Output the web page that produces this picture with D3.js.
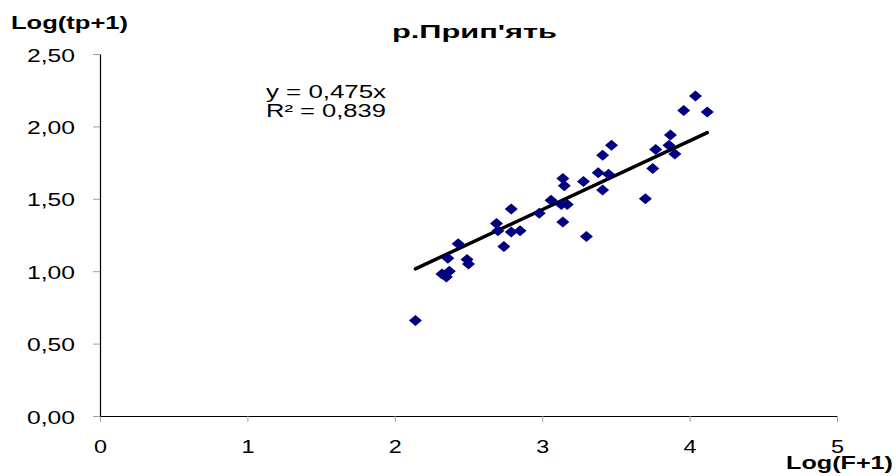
<!DOCTYPE html>
<html>
<head>
<meta charset="utf-8">
<script src="https://cdn.jsdelivr.net/npm/d3@7"></script>
<style>
    body { margin: 0; background: #fff; }
    svg { display: block; font-family: "Liberation Sans", Arial, sans-serif; }
</style>
</head>
<body>
<svg id="chart" width="896" height="476"></svg>
<script>
// values
var xValues = [2.14, 2.32, 2.35, 2.37, 2.36, 2.43, 2.49, 2.50, 2.69, 2.70, 2.74, 2.79, 2.79, 2.85, 2.98,
    3.06, 3.13, 3.17, 3.14, 3.15, 3.14, 3.28, 3.30, 3.38, 3.41, 3.45, 3.41, 3.47, 3.70, 3.75, 3.77,
    3.86, 3.87, 3.90, 3.96, 4.04, 4.12];
var yValues = [0.66, 0.98, 0.96, 1.00, 1.09, 1.19, 1.08, 1.05, 1.33, 1.28, 1.17, 1.43, 1.27, 1.28, 1.40,
    1.49, 1.46, 1.46, 1.64, 1.59, 1.34, 1.62, 1.24, 1.68, 1.56, 1.67, 1.80, 1.87, 1.50, 1.71, 1.84,
    1.87, 1.94, 1.81, 2.11, 2.21, 2.10];
var xTicks = [0, 1, 2, 3, 4, 5];
var yTicks = [0, 0.5, 1, 1.5, 2, 2.5];
var slope = 0.475;
var equationLines = ["y = 0,475x", "R\u00b2 = 0,839"];
var title = "р.Прип'ять";
var xTitle = "Log(F+1)";
var yTitle = "Log(tp+1)";

var svg = d3.select("#chart");

var x = d3.scaleLinear().domain([0, 5]).range([100, 837]);
var y = d3.scaleLinear().domain([0, 2.5]).range([416, 54]);

var comma = function (v, n) { return v.toFixed(n).replace(".", ","); };

// axes
var xAxis = svg.append("g")
    .attr("transform", "translate(0," + y(0) + ")")
    .call(d3.axisBottom(x).tickValues(xTicks).tickSize(6).tickSizeOuter(0).tickFormat(d => comma(d, 0)));
var yAxis = svg.append("g")
    .attr("transform", "translate(" + x(0) + ",0)")
    .call(d3.axisLeft(y).tickValues(yTicks).tickSize(7).tickSizeOuter(0).tickFormat(d => comma(d, 2)));

[xAxis, yAxis].forEach(function (g) {
    g.select(".domain").attr("stroke", "#000").attr("stroke-width", 1.2);
    g.selectAll(".tick line").attr("stroke", "#a0a0a0");
    g.selectAll(".tick text")
        .attr("fill", "#000")
        .style("font-size", "18px");
    g.attr("font-family", null).attr("font-size", null);
});

xAxis.selectAll(".tick text")
    .attr("y", 37).attr("dy", 0)
    .attr("textLength", 13).attr("lengthAdjust", "spacingAndGlyphs");
yAxis.selectAll(".tick text")
    .attr("x", -25).attr("dy", 7)
    .attr("textLength", 48).attr("lengthAdjust", "spacingAndGlyphs");

// trend line through the points' x range
var xExtent = d3.extent(xValues);
svg.append("path")
    .attr("fill", "none")
    .attr("stroke", "#000")
    .attr("stroke-width", 3.5)
    .attr("stroke-linecap", "round")
    .attr("d", d3.line().x(d => x(d)).y(d => y(d * slope))(xExtent));

// points (diamonds)
var points = xValues.map((v, i) => ({x: v, y: yValues[i]}));
var dw = 6.5, dh = 5.5;
svg.append("g").selectAll("path")
    .data(points)
    .enter().append("path")
    .attr("fill", "#000080")
    .attr("d", function (d) {
        var cx = x(d.x), cy = y(d.y);
        return "M" + cx + "," + (cy - dh) + "L" + (cx + dw) + "," + cy +
            "L" + cx + "," + (cy + dh) + "L" + (cx - dw) + "," + cy + "Z";
    });

// equation
svg.append("g").selectAll("text")
    .data(equationLines)
    .enter().append("text")
    .attr("x", 266)
    .attr("y", (d, i) => 98 + i * 19)
    .style("font-size", "18px")
    .attr("textLength", 120).attr("lengthAdjust", "spacingAndGlyphs")
    .text(d => d);

// titles
svg.append("text")
    .attr("x", 392).attr("y", 38)
    .style("font-size", "19px").style("font-weight", "bold")
    .attr("textLength", 165).attr("lengthAdjust", "spacingAndGlyphs")
    .text(title);

svg.append("text")
    .attr("x", 11).attr("y", 29)
    .style("font-size", "19px").style("font-weight", "bold")
    .attr("textLength", 117).attr("lengthAdjust", "spacingAndGlyphs")
    .text(yTitle);

svg.append("text")
    .attr("x", 786).attr("y", 469)
    .style("font-size", "19px").style("font-weight", "bold")
    .attr("textLength", 107).attr("lengthAdjust", "spacingAndGlyphs")
    .text(xTitle);
</script>
</body>
</html>
